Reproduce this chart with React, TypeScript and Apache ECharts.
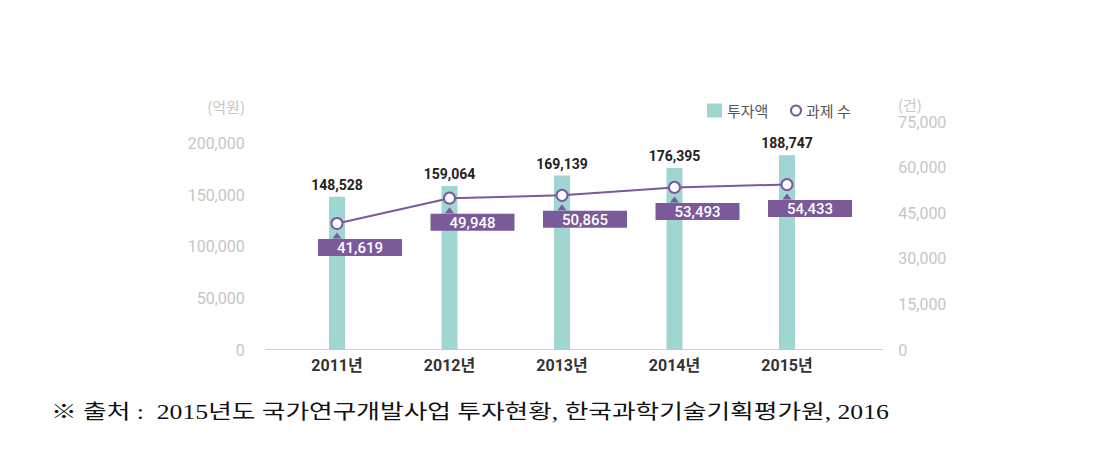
import React, { useEffect, useRef } from "react";
import * as echarts from "echarts";

const categories = ["2011년", "2012년", "2013년", "2014년", "2015년"];
const investment = [148528, 159064, 169139, 176395, 188747];
const projects = [41619, 49948, 50865, 53493, 54433];
const leftTicks = [0, 50000, 100000, 150000, 200000];
const rightTicks = [0, 15000, 30000, 45000, 60000, 75000];
const footerText = "※ 출처 :  2015년도 국가연구개발사업 투자현황, 한국과학기술기획평가원, 2016";

const TEAL = "#9fd6d1";
const PURPLE = "#7a5a99";
const AXIS_GRAY = "#c6c6c6";
const fmt = (v: number) => v.toLocaleString("en-US");

export default function App() {
  const ref = useRef<HTMLDivElement>(null);
  useEffect(() => {
    document.body.style.margin = "0";
    const chart = echarts.init(ref.current!, null, { renderer: "svg" });
    const numFont = "Roboto, 'Noto Sans CJK KR', sans-serif";
    chart.setOption({
      animation: false,
      backgroundColor: "#ffffff",
      grid: { left: 280.75, right: 274.75, top: 122, bottom: 111 },
      legend: [
        {
          data: ["투자액"],
          left: 702,
          top: 98,
          itemWidth: 15,
          itemHeight: 14,
          icon: "rect",
          textStyle: { fontSize: 15, color: "#555", fontFamily: "'Noto Sans CJK KR', sans-serif" },
        },
        {
          data: [
            {
              name: "과제 수",
              icon: "circle",
              itemStyle: { color: "#fff", borderColor: PURPLE, borderWidth: 2 },
            },
          ],
          left: 785,
          top: 98,
          itemWidth: 10,
          itemHeight: 10,
          itemGap: 4,
          textStyle: { fontSize: 15, color: "#555", fontFamily: "'Noto Sans CJK KR', sans-serif" },
        },
      ],
      xAxis: {
        type: "category",
        data: categories,
        axisLine: { show: false },
        axisTick: { show: false },
        axisLabel: {
          margin: 7,
          fontSize: 16,
          fontWeight: "bold",
          color: "#333",
          fontFamily: numFont,
        },
      },
      yAxis: [
        {
          type: "value",
          min: 0,
          max: 221000,
          interval: 50000,
          splitLine: { show: false },
          axisLine: { show: false },
          axisTick: { show: false },
          axisLabel: {
            margin: 36,
            fontSize: 16,
            color: AXIS_GRAY,
            fontFamily: numFont,
            formatter: (v: number) => (leftTicks.includes(v) ? fmt(v) : ""),
          },
        },
        {
          type: "value",
          min: 0,
          max: 75000,
          interval: 15000,
          splitLine: { show: false },
          axisLine: { show: false },
          axisTick: { show: false },
          axisLabel: {
            margin: 55,
            fontSize: 16,
            color: AXIS_GRAY,
            fontFamily: numFont,
            formatter: (v: number) => (rightTicks.includes(v) ? fmt(v) : ""),
          },
        },
      ],
      series: [
        {
          name: "투자액",
          type: "bar",
          data: investment,
          barWidth: 16,
          itemStyle: { color: TEAL },
          label: {
            show: true,
            position: "top",
            distance: 5,
            fontSize: 14,
            fontWeight: "bold",
            color: "#222",
            fontFamily: numFont,
            formatter: (p: any) => fmt(p.value),
          },
        },
        {
          name: "pointer",
          type: "line",
          yAxisIndex: 1,
          data: projects,
          symbol: "triangle",
          symbolSize: [9, 6],
          symbolOffset: [0, 12],
          lineStyle: { opacity: 0 },
          itemStyle: { color: PURPLE },
          z: 4,
          silent: true,
          tooltip: { show: false },
        },
        {
          name: "과제 수",
          type: "line",
          yAxisIndex: 1,
          data: projects,
          symbol: "circle",
          symbolSize: 11,
          lineStyle: { color: PURPLE, width: 2 },
          itemStyle: { color: "#fff", borderColor: PURPLE, borderWidth: 2 },
          z: 5,
          label: {
            show: true,
            position: "bottom",
            distance: 9,
            offset: [23, 0],
            backgroundColor: PURPLE,
            color: "#fff",
            fontSize: 15,
            fontWeight: 500,
            fontFamily: numFont,
            padding: [1, 19, 0, 19],
            lineHeight: 16,
            formatter: (p: any) => fmt(p.value),
          },
        },
      ],
      graphic: [
        {
          type: "line",
          shape: { x1: 265, y1: 349.5, x2: 883, y2: 349.5 },
          style: { stroke: "#cfcfcf", lineWidth: 1 },
          z: 1,
        },
        {
          type: "text",
          x: 245,
          y: 106,
          style: {
            text: "(억원)",
            fill: AXIS_GRAY,
            font: "15px 'Noto Sans CJK KR', sans-serif",
            textAlign: "right",
            textVerticalAlign: "middle",
          },
        },
        {
          type: "text",
          x: 898,
          y: 104,
          style: {
            text: "(건)",
            fill: AXIS_GRAY,
            font: "15px 'Noto Sans CJK KR', sans-serif",
            textAlign: "left",
            textVerticalAlign: "middle",
          },
        },
        {
          type: "text",
          x: 51,
          y: 412,
          scaleX: 1.285,
          style: {
            text: footerText,
            fill: "#111",
            font: "20px 'Liberation Serif', 'Noto Sans CJK KR', serif",
            textAlign: "left",
            textVerticalAlign: "middle",
          },
        },
      ],
    });
    return () => chart.dispose();
  }, []);
  return <div ref={ref} style={{ width: 1118, height: 461 }} />;
}
